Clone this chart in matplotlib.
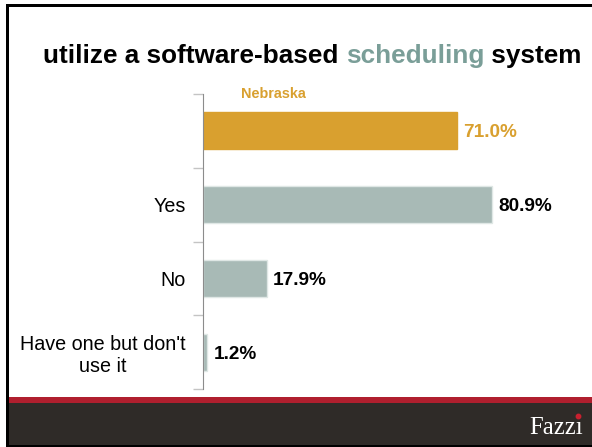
import matplotlib.pyplot as plt
from matplotlib.patches import Rectangle

plt.rcParams['font.family'] = ['Liberation Sans', 'DejaVu Sans']

# survey answers, top row is the state-wide figure
categories = ['Nebraska', 'Yes', 'No', "Have one but don't\nuse it"]
values = [71.0, 80.9, 17.9, 1.2]

gold = '#d9a02f'
sage = '#a8bab6'
teal = '#7a9e98'

W, H = 592, 447
fig = plt.figure(figsize=(W / 100, H / 100), dpi=100)
fig.patch.set_facecolor('white')


def fx(x):
    return x / W


def fy(y):
    return 1 - y / H


def box(x0, y0, x1, y1, color):
    fig.add_artist(Rectangle((fx(x0), fy(y1)), fx(x1) - fx(x0), fy(y0) - fy(y1),
                             transform=fig.transFigure, facecolor=color,
                             edgecolor='none', zorder=0))


# slide frame and footer band
box(6, 4, W, 7, 'black')
box(6, 4, 9, H, 'black')
box(9, 397, W, 403, '#b01f2e')
box(9, 403, W, 445, '#2f2b28')
box(6, 445, W, H, 'black')

fig.text(fx(583), fy(433.5), 'Fazz\u0131', color='white', ha='right', va='baseline',
         fontsize=17.8, family='Liberation Serif')
fig.add_artist(plt.Line2D([fx(577.5)], [fy(415.5)], marker='o', markersize=3.2,
                          color='#c8202f', transform=fig.transFigure))

# title in three pieces so one word can be coloured
renderer = fig.canvas.get_renderer()
parts = [('utilize a software-based ', 'black'), ('scheduling', teal), (' system', 'black')]
x = fx(43)
for s, c in parts:
    t = fig.text(x, fy(63), s, color=c, fontsize=18.8, fontweight='bold',
                 ha='left', va='baseline')
    bb = t.get_window_extent(renderer)
    x += bb.width / W

ax = fig.add_axes([fx(203), fy(389), 357.6 / W, 295 / H])
ypos = list(range(len(values)))
colors = [gold] + [sage] * (len(values) - 1)
edges = [gold] + ['#dfe7e5'] * (len(values) - 1)
ax.barh(ypos, values, height=0.5, color=colors, edgecolor=edges, linewidth=1)
ax.set_xlim(0, 100)
ax.set_ylim(len(values) - 0.5, -0.5)

for i, v in enumerate(values):
    ax.annotate(f'{v:.1f}%', (v, i), xytext=(6, 0), textcoords='offset pixels',
                ha='left', va='center_baseline', fontsize=13.7, fontweight='bold',
                color=gold if i == 0 else 'black')

ax.text(0.105, -0.5, categories[0], transform=ax.get_yaxis_transform(),
        ha='left', va='center', fontsize=10.4, fontweight='bold', color=gold)

ax.set_yticks(ypos)
ax.set_yticklabels([''] + categories[1:], fontsize=14.2)
for lab in ax.get_yticklabels():
    lab.set_multialignment('center')
ax.tick_params(axis='y', which='major', length=0, pad=12.2)
ax.set_yticks([i - 0.5 for i in range(len(values) + 1)], minor=True)
ax.tick_params(axis='y', which='minor', length=7, color='#c4c4c4', width=1)
ax.set_xticks([])
for side in ['top', 'right', 'bottom']:
    ax.spines[side].set_visible(False)
ax.spines['left'].set_color('#8c8c8c')
ax.set_facecolor('none')

fig.savefig('out.png', dpi=100)
